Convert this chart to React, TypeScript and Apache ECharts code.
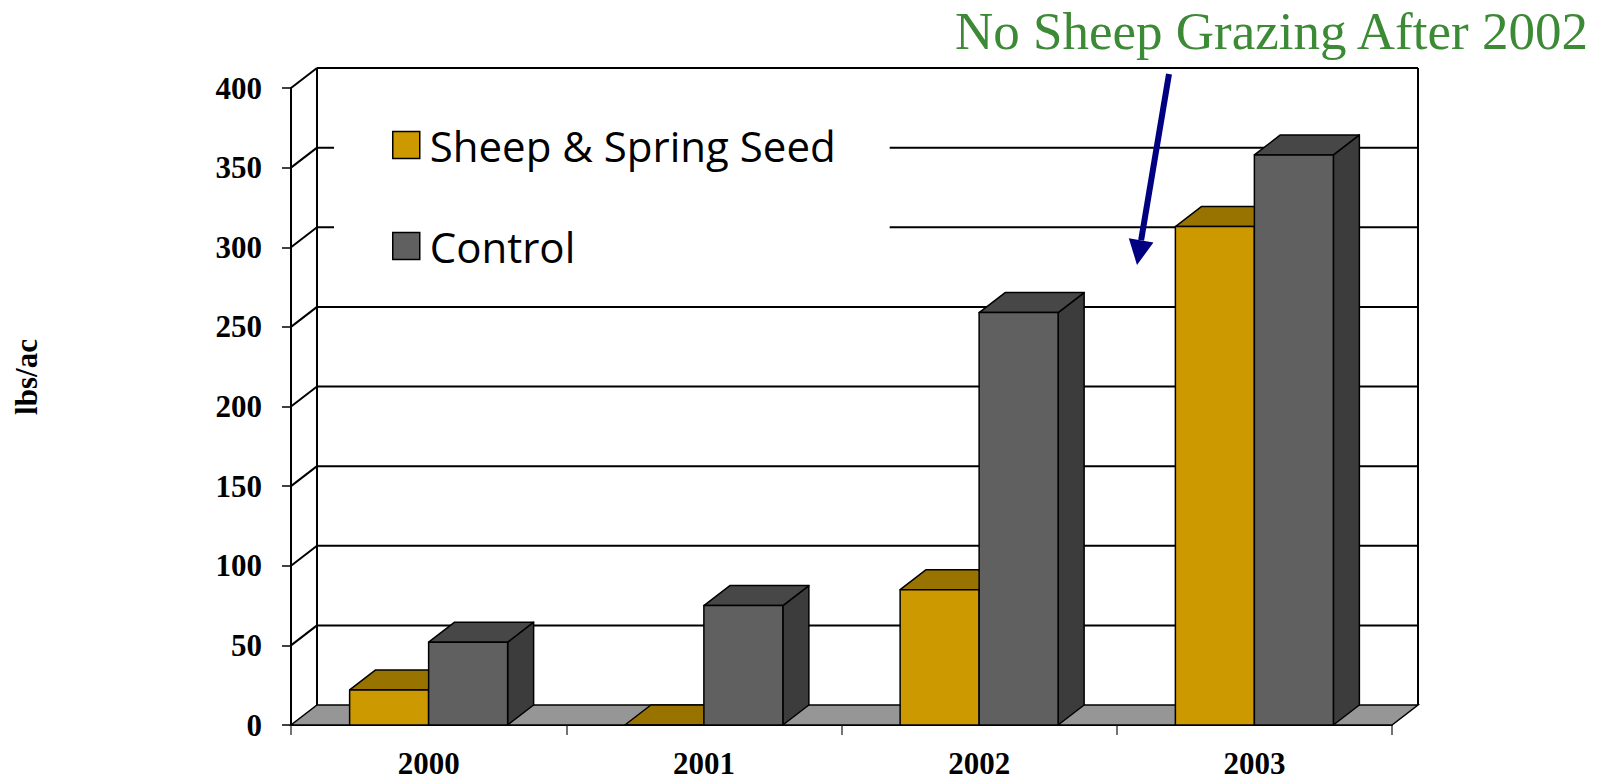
import React, { useEffect, useRef } from "react";
import * as echarts from "echarts";

// ---- data ----
const years = ["2000", "2001", "2002", "2003"];
const seriesNames = ["Sheep & Spring Seed", "Control"];
const sheepSpringSeed = [22, 0, 85, 313];
const controlValues = [52, 75, 259, 358];
const yMin = 0;
const yMax = 400;
const yStep = 50;
const titleText = "No Sheep Grazing After 2002";
const yAxisTitle = "lbs/ac";

// ---- style ----
const DX = 26;
const DY = -20;
const SERIF = "'Liberation Serif', 'Times New Roman', serif";
const SANS = "'Open Sans', 'Noto Sans', sans-serif";
const BAR_FRAC = 0.287;
const colors = [
  { front: "#CC9900", top: "#997300", side: "#7A5C00" },
  { front: "#606060", top: "#474747", side: "#3C3C3C" },
];

function makeBarRenderer(idx: number) {
  return (params: any, api: any) => {
    const cat = api.value(0);
    const val = api.value(1);
    const base = api.coord([cat, 0]);
    const topPt = api.coord([cat, val]);
    const bw = api.size([1, 0])[0] * BAR_FRAC;
    const x = idx === 0 ? base[0] - bw : base[0];
    const yb = base[1];
    const yt = topPt[1];
    const c = colors[idx];
    const st = (fill: string) => ({ fill, stroke: "#000", lineWidth: 1.5, lineJoin: "round" });
    return {
      type: "group",
      children: [
        {
          type: "polygon",
          shape: { points: [[x + bw, yt], [x + bw + DX, yt + DY], [x + bw + DX, yb + DY], [x + bw, yb]] },
          style: st(c.side),
        },
        {
          type: "polygon",
          shape: { points: [[x, yt], [x + bw, yt], [x + bw + DX, yt + DY], [x + DX, yt + DY]] },
          style: st(c.top),
        },
        {
          type: "rect",
          shape: { x, y: yt, width: bw, height: Math.max(0, yb - yt) },
          style: st(c.front),
        },
      ],
    };
  };
}

function frameRenderer(params: any, api: any) {
  const cs = params.coordSys;
  const x0 = cs.x;
  const x1 = cs.x + cs.width;
  const yb = api.coord([0, yMin])[1];
  const yt = api.coord([0, yMax])[1];
  const line = { stroke: "#000", lineWidth: 2 };
  const children: any[] = [];
  children.push({
    type: "polygon",
    shape: { points: [[x0, yb], [x1, yb], [x1 + DX, yb + DY], [x0 + DX, yb + DY]] },
    style: { fill: "#969696", stroke: "#000", lineWidth: 1.5 },
  });
  for (let v = yMin + yStep; v <= yMax; v += yStep) {
    const y = api.coord([0, v])[1];
    children.push({ type: "line", shape: { x1: x0 + DX, y1: y + DY, x2: x1 + DX, y2: y + DY }, style: line });
    children.push({ type: "line", shape: { x1: x0, y1: y, x2: x0 + DX, y2: y + DY }, style: line });
  }
  children.push({ type: "line", shape: { x1: x0 + DX, y1: yt + DY, x2: x0 + DX, y2: yb + DY }, style: line });
  children.push({ type: "line", shape: { x1: x1 + DX, y1: yt + DY, x2: x1 + DX, y2: yb + DY }, style: line });
  return { type: "group", children };
}

export default function App() {
  const ref = useRef<HTMLDivElement>(null);
  useEffect(() => {
    if (!ref.current) return;
    const chart = echarts.init(ref.current, null, { renderer: "svg" });
    const barData = (arr: number[]) => arr.map((v, i) => [i, v]);
    // arrow geometry (annotation)
    const tail = [1169, 74];
    const tip = [1137, 265];
    const vx = tip[0] - tail[0];
    const vy = tip[1] - tail[1];
    const len = Math.hypot(vx, vy);
    const ux = vx / len;
    const uy = vy / len;
    const headLen = 25;
    const headHalf = 12.5;
    const bx = tip[0] - ux * headLen;
    const by = tip[1] - uy * headLen;
    chart.setOption({
      animation: false,
      backgroundColor: "#fff",
      title: {
        text: titleText,
        left: 955,
        top: 4,
        padding: 0,
        textStyle: { fontFamily: SERIF, fontSize: 53, fontWeight: "normal", color: "#3C8A35" },
      },
      legend: {
        orient: "vertical",
        left: 334,
        top: 100,
        padding: [24, 54, 24, 58],
        backgroundColor: "#fff",
        itemWidth: 27,
        itemHeight: 27,
        itemGap: 59,
        icon: "rect",
        selectedMode: false,
        textStyle: { fontFamily: SANS, fontSize: 42, color: "#000", lineHeight: 40, padding: [0, 0, 0, 5] },
        data: seriesNames.map((n, i) => ({
          name: n,
          itemStyle: { color: colors[i].front, borderColor: "#000", borderWidth: 1.5 },
        })),
        z: 10,
      },
      grid: { left: 291, right: 216, top: 88, bottom: 54 },
      xAxis: {
        type: "category",
        data: years,
        axisLine: { show: true, lineStyle: { color: "#000", width: 2 } },
        axisTick: { show: true, length: 10, lineStyle: { color: "#444", width: 1.5 } },
        axisLabel: {
          fontFamily: SERIF,
          fontWeight: "bold",
          fontSize: 31,
          lineHeight: 26,
          color: "#000",
          margin: 25,
        },
        splitLine: { show: false },
      },
      yAxis: {
        type: "value",
        min: yMin,
        max: yMax,
        interval: yStep,
        axisLine: { show: true, lineStyle: { color: "#000", width: 2 } },
        axisTick: { show: true, length: 9, lineStyle: { color: "#000", width: 1.5 } },
        axisLabel: { fontFamily: SERIF, fontWeight: "bold", fontSize: 31, color: "#000", margin: 29 },
        splitLine: { show: false },
      },
      graphic: [
        {
          type: "text",
          x: 26,
          y: 377,
          rotation: Math.PI / 2,
          style: {
            text: yAxisTitle,
            fontFamily: SERIF,
            fontWeight: "bold",
            fontSize: 31,
            fill: "#000",
            align: "center",
            verticalAlign: "middle",
          },
        },
        {
          type: "line",
          shape: { x1: tail[0], y1: tail[1], x2: bx, y2: by },
          style: { stroke: "#000080", lineWidth: 6 },
          z: 20,
        },
        {
          type: "polygon",
          shape: {
            points: [
              [tip[0], tip[1]],
              [bx - uy * headHalf, by + ux * headHalf],
              [bx + uy * headHalf, by - ux * headHalf],
            ],
          },
          style: { fill: "#000080" },
          z: 20,
        },
      ],
      series: [
        {
          type: "custom",
          name: "frame",
          renderItem: frameRenderer,
          data: [[0, 0]],
          z: 1,
          silent: true,
        },
        {
          type: "custom",
          name: seriesNames[0],
          renderItem: makeBarRenderer(0),
          data: barData(sheepSpringSeed),
          encode: { x: 0, y: 1 },
          itemStyle: { color: colors[0].front },
          z: 3,
        },
        {
          type: "custom",
          name: seriesNames[1],
          renderItem: makeBarRenderer(1),
          data: barData(controlValues),
          encode: { x: 0, y: 1 },
          itemStyle: { color: colors[1].front },
          z: 4,
        },
      ],
    });
    return () => chart.dispose();
  }, []);
  return (
    <div
      ref={ref}
      style={{ position: "fixed", left: 0, top: 0, width: "1608px", height: "779px", background: "#fff" }}
    />
  );
}
